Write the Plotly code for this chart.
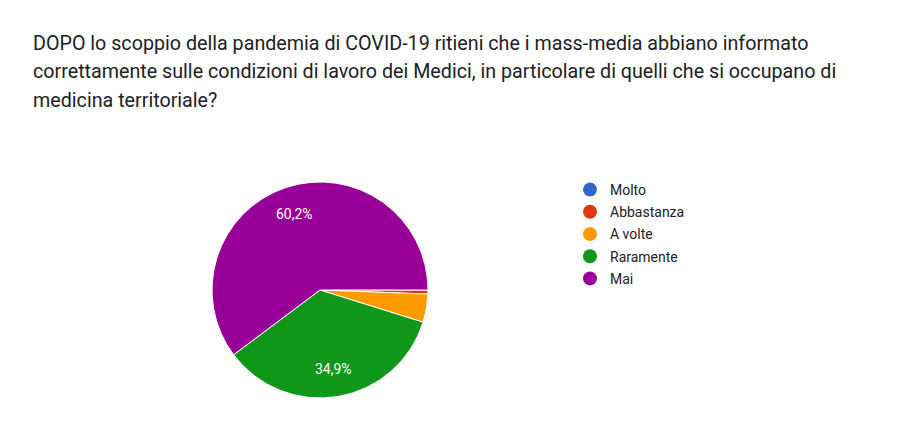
import math
import plotly.graph_objects as go

W, H = 924, 438
labels = ["Molto", "Abbastanza", "A volte", "Raramente", "Mai"]
values = [0, 1, 7, 58, 100]
colors = ["#3366cc", "#dc3912", "#ff9900", "#109618", "#990099"]
title_lines = [
    "DOPO lo scoppio della pandemia di COVID-19 ritieni che i mass-media abbiano informato",
    "correttamente sulle condizioni di lavoro dei Medici, in particolare di quelli che si occupano di",
    "medicina territoriale?",
]

cx, cy, r = 320, 290, 108
total = sum(values)

fig = go.Figure()
fig.add_trace(go.Pie(
    labels=labels, values=values, sort=False, direction="clockwise", rotation=90,
    marker=dict(colors=colors, line=dict(color="white", width=1)),
    textinfo="none", showlegend=False, hoverinfo="label+percent",
    domain=dict(x=[(cx - r) / W, (cx + r) / W], y=[1 - (cy + r) / H, 1 - (cy - r) / H]),
))
for lab, col in zip(labels, colors):
    fig.add_trace(go.Scatter(
        x=[None], y=[None], mode="markers", name=lab, legendgroup=lab,
        marker=dict(color=col, size=14, symbol="circle"),
    ))

# slice percentage labels (Google-style, placed at 0.74 R on the mid-angle)
cum = 0
for v in values:
    frac = v / total
    mid = (cum + frac / 2) * 2 * math.pi
    cum += frac
    if frac > 0.05:
        px = cx + 0.74 * r * math.cos(mid)
        py = cy + 0.74 * r * math.sin(mid)
        fig.add_annotation(
            text=f"{frac*100:.1f}%".replace(".", ","), xref="paper", yref="paper",
            x=px / W, y=1 - py / H, xanchor="center", yanchor="middle", showarrow=False,
            font=dict(family="Roboto, Arial", size=14, color="white"),
        )

for i, line in enumerate(title_lines):
    fig.add_annotation(
        text=line, xref="paper", yref="paper", x=31 / W, y=1 - (43 + 28.5 * i) / H,
        xanchor="left", yanchor="middle", showarrow=False,
        font=dict(family="Roboto, Arial", size=19.7, color="#202124"),
    )

fig.update_layout(
    width=W, height=H, margin=dict(l=0, r=0, t=0, b=0),
    paper_bgcolor="white", plot_bgcolor="white", separators=",.",
    xaxis=dict(visible=False), yaxis=dict(visible=False),
    legend=dict(x=570 / W, y=1 - 174 / H, xanchor="left", yanchor="top",
                font=dict(family="Roboto, Arial", size=14, color="#222222"),
                tracegroupgap=1, itemwidth=30, bgcolor="rgba(0,0,0,0)"),
)
fig.write_html("out.html")
